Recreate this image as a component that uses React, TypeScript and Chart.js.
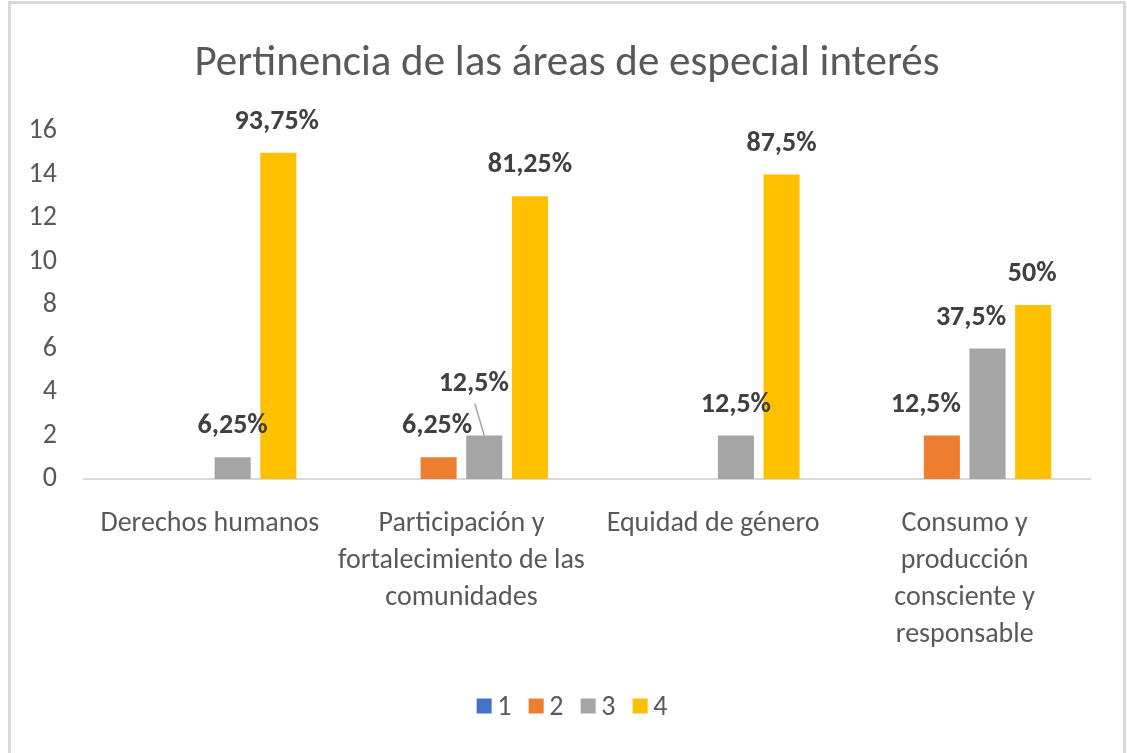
import React, { useEffect, useRef } from "react";
import { Chart, registerables } from "chart.js";

Chart.register(...registerables);

// ---- data ----
const chartTitle = "Pertinencia de las áreas de especial interés";
const categories: string[][] = [
  ["Derechos humanos"],
  ["Participación y", "fortalecimiento de las", "comunidades"],
  ["Equidad de género"],
  ["Consumo y", "producción", "consciente y", "responsable"],
];
const seriesNames = ["1", "2", "3", "4"];
const series1 = [0, 0, 0, 0];
const series2 = [0, 1, 0, 2];
const series3 = [1, 2, 2, 6];
const series4 = [15, 13, 14, 8];
const pctLabels1 = ["", "", "", ""];
const pctLabels2 = ["", "6,25%", "", "12,5%"];
const pctLabels3 = ["6,25%", "12,5%", "12,5%", "37,5%"];
const pctLabels4 = ["93,75%", "81,25%", "87,5%", "50%"];
const yMin = 0;
const yMax = 16;
const yStep = 2;

// ---- styling (kept separate from data) ----
const seriesColors = ["#4472C4", "#ED7D31", "#A5A5A5", "#FFC000"];
const labelShiftX = [
  [0, 0, 0, 0],
  [0, -1.5, 0, -16],
  [0, -10.5, 0, -16.5],
  [-1.5, 0, 0, -1],
];
const labelLift = [
  [0, 0, 0, 0],
  [0, 0, 0, 0],
  [0, 21, 0, 0],
  [0, 0, 0, 0],
];
const FONT = "Carlito, Calibri, 'Liberation Sans', sans-serif";
const TEXT = "#595959";

const labelPlugin = {
  id: "pctLabels",
  afterDatasetsDraw(chart: any) {
    const ctx = chart.ctx;
    const all = [pctLabels1, pctLabels2, pctLabels3, pctLabels4];
    ctx.save();
    ctx.font = `bold 28px ${FONT}`;
    ctx.textAlign = "center";
    ctx.textBaseline = "alphabetic";
    chart.data.datasets.forEach((_ds: any, i: number) => {
      const meta = chart.getDatasetMeta(i);
      meta.data.forEach((bar: any, j: number) => {
        const txt = all[i][j];
        if (!txt) return;
        const x = bar.x + labelShiftX[i][j];
        const y = bar.y - 24 - labelLift[i][j];
        if (labelLift[i][j] > 0) {
          ctx.strokeStyle = "#A6A6A6";
          ctx.lineWidth = 1.5;
          ctx.beginPath();
          ctx.moveTo(x + 1, y + 13);
          ctx.lineTo(bar.x, bar.y);
          ctx.stroke();
        }
        ctx.fillStyle = "#404040";
        ctx.fillText(txt, x, y);
      });
    });
    ctx.restore();
  },
};

const chromePlugin = {
  id: "titleAndLegend",
  afterDraw(chart: any) {
    const ctx = chart.ctx;
    ctx.save();
    // title
    ctx.font = `43px ${FONT}`;
    ctx.fillStyle = TEXT;
    ctx.textAlign = "center";
    ctx.textBaseline = "alphabetic";
    ctx.fillText(chartTitle, chart.width / 2, 75);
    // legend
    ctx.font = `28px ${FONT}`;
    ctx.textAlign = "left";
    const box = 15;
    const gap = 5.5;
    const step = 52;
    const items = chart.data.datasets.map((d: any) => ({
      label: d.label,
      color: d.backgroundColor,
      w: ctx.measureText(d.label).width,
    }));
    const total = (items.length - 1) * step + box + gap + items[items.length - 1].w;
    let x = chart.width / 2 + 5 - total / 2;
    const boxTop = 698.5;
    const baseline = 715;
    items.forEach((it: any) => {
      ctx.fillStyle = it.color;
      ctx.fillRect(x, boxTop, box, box);
      ctx.fillStyle = TEXT;
      ctx.fillText(it.label, x + box + gap, baseline);
      x += step;
    });
    ctx.restore();
  },
};

export default function App() {
  const ref = useRef<HTMLCanvasElement>(null);
  useEffect(() => {
    const canvas = ref.current!;
    const data = [series1, series2, series3, series4];
    const chart = new Chart(canvas, {
      type: "bar",
      data: {
        labels: categories,
        datasets: data.map((vals, i) => ({
          label: seriesNames[i],
          data: vals,
          backgroundColor: seriesColors[i],
          borderWidth: 0,
          categoryPercentage: 0.726,
          barPercentage: 0.79,
        })),
      },
      options: {
        responsive: false,
        animation: false,
        layout: { padding: { top: 131, left: 0, right: 35.5, bottom: 0 } },
        plugins: {
          legend: { display: false },
          tooltip: { enabled: false },
          title: { display: false },
        },
        scales: {
          x: {
            grid: { display: false, drawTicks: false },
            border: { display: true, color: "#D9D9D9", width: 2 },
            ticks: {
              color: TEXT,
              font: { family: FONT, size: 28, lineHeight: "37px" },
              padding: 26,
              maxRotation: 0,
              autoSkip: false,
            },
            afterFit: (s: any) => {
              s.height = 274;
            },
          },
          y: {
            min: yMin,
            max: yMax,
            grid: { display: false, drawTicks: false },
            border: { display: false },
            ticks: {
              stepSize: yStep,
              color: TEXT,
              font: { family: FONT, size: 28 },
              padding: 27,
            },
            afterFit: (s: any) => {
              s.width = 76;
            },
          },
        },
      },
      plugins: [labelPlugin, chromePlugin],
    } as any);
    return () => chart.destroy();
  }, []);

  return (
    <div
      style={{
        position: "fixed",
        left: 0,
        top: 0,
        width: 1127,
        height: 753,
        overflow: "hidden",
        background: "#fff",
      }}
    >
      <div
        style={{
          position: "absolute",
          left: 8,
          top: 1,
          width: 1118,
          height: 800,
          border: "3px solid #D9D9D9",
          boxSizing: "border-box",
        }}
      />
      <canvas
        ref={ref}
        width={1118}
        height={753}
        style={{ position: "absolute", left: 8, top: 0, width: 1118, height: 753 }}
      />
    </div>
  );
}
